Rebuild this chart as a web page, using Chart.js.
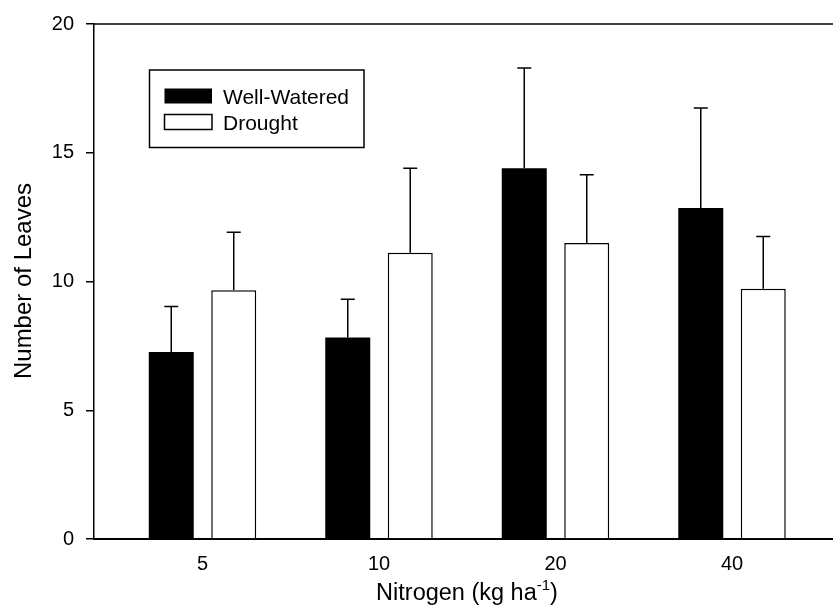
<!DOCTYPE html>
<html>
<head>
<meta charset="utf-8">
<script src="https://cdn.jsdelivr.net/npm/chart.js@4"></script>
<style>
  html, body { margin: 0; padding: 0; background: #fff; }
  #wrap { width: 833px; height: 605px; }
</style>
</head>
<body>
<div id="wrap"><canvas id="c" width="833" height="605"></canvas></div>
<script>
// ---- data ----
const categories = ["5", "10", "20", "40"];
const seriesNames = ["Well-Watered", "Drought"];
const wellWatered = [7.26, 7.83, 14.40, 12.85];
const wellWateredErr = [1.77, 1.48, 3.89, 3.89];
const drought = [9.66, 11.12, 11.50, 9.72];
const droughtErr = [2.25, 3.28, 2.65, 2.03];
const yTicks = [0, 5, 10, 15, 20];
const xTitle = "Nitrogen (kg ha";
const xTitleSup = "-1";
const yTitle = "Number of Leaves";

const FONT = "'Liberation Sans', Arial, Helvetica, sans-serif";

const toPoints = arr => arr.map((v, i) => ({ x: i, y: v }));

const errorBars = {
  id: 'errorBars',
  afterDatasetsDraw(chart) {
    const ctx = chart.ctx;
    const ys = chart.scales.y;
    const errs = [wellWateredErr, droughtErr];
    ctx.save();
    ctx.strokeStyle = '#000';
    ctx.lineWidth = 1.5;
    chart.data.datasets.forEach((ds, di) => {
      const meta = chart.getDatasetMeta(di);
      meta.data.forEach((bar, j) => {
        const top = ys.getPixelForValue(ds.data[j].y + errs[di][j]);
        const base = ys.getPixelForValue(ds.data[j].y);
        ctx.beginPath();
        ctx.moveTo(bar.x, base);
        ctx.lineTo(bar.x, top);
        ctx.moveTo(bar.x - 7, top);
        ctx.lineTo(bar.x + 7, top);
        ctx.stroke();
      });
    });
    ctx.restore();
  }
};

const decor = {
  id: 'decor',
  afterDraw(chart) {
    const ctx = chart.ctx;
    const a = chart.chartArea;
    ctx.save();
    // top frame line
    ctx.strokeStyle = '#000';
    ctx.lineWidth = 1.5;
    ctx.beginPath();
    ctx.moveTo(a.left, a.top);
    ctx.lineTo(a.right, a.top);
    ctx.stroke();

    // legend
    const lx = 149.5, ly = 70, lw = 214.5, lh = 77.5;
    ctx.lineWidth = 1.5;
    ctx.strokeRect(lx, ly, lw, lh);
    ctx.fillStyle = '#000';
    ctx.fillRect(164.5, 88.5, 47.5, 15);
    ctx.fillStyle = '#fff';
    ctx.fillRect(164.5, 114.5, 47.5, 15);
    ctx.strokeStyle = '#000';
    ctx.lineWidth = 1.5;
    ctx.strokeRect(164.5, 114.5, 47.5, 15);
    ctx.fillStyle = '#000';
    ctx.font = "21px " + FONT;
    ctx.textAlign = 'left';
    ctx.textBaseline = 'alphabetic';
    ctx.fillText(seriesNames[0], 223, 103.5);
    ctx.fillText(seriesNames[1], 223, 129.5);

    // x title with superscript
    const big = "23.5px " + FONT, small = "15px " + FONT;
    ctx.font = big;
    const w1 = ctx.measureText(xTitle).width;
    ctx.font = small;
    const w2 = ctx.measureText(xTitleSup).width;
    ctx.font = big;
    const w3 = ctx.measureText(")").width;
    const total = w1 + w2 + w3;
    let x0 = 467 - total / 2;
    const base = 600;
    ctx.fillText(xTitle, x0, base);
    ctx.font = small;
    ctx.fillText(xTitleSup, x0 + w1, base - 10);
    ctx.font = big;
    ctx.fillText(")", x0 + w1 + w2, base);

    // y title
    ctx.save();
    ctx.translate(31, 281);
    ctx.rotate(-Math.PI / 2);
    ctx.textAlign = 'center';
    ctx.font = "24px " + FONT;
    ctx.fillText(yTitle, 0, 0);
    ctx.restore();

    ctx.restore();
  }
};

new Chart(document.getElementById('c'), {
  type: 'bar',
  data: {
    datasets: [
      {
        label: seriesNames[0],
        data: toPoints(wellWatered),
        backgroundColor: '#000',
        borderColor: '#000',
        borderWidth: 0
      },
      {
        label: seriesNames[1],
        data: toPoints(drought),
        backgroundColor: '#fff',
        borderColor: '#000',
        borderWidth: 1.5
      }
    ]
  },
  options: {
    responsive: false,
    animation: false,
    devicePixelRatio: 1,
    layout: { padding: { top: 23, right: 0, left: 0, bottom: 0 } },
    categoryPercentage: 0.708,
    barPercentage: 0.72,
    plugins: {
      legend: { display: false },
      tooltip: { enabled: false },
      title: { display: false }
    },
    scales: {
      x: {
        type: 'linear',
        min: -0.6147,
        max: 3.5722,
        offset: false,
        grid: { display: false, drawTicks: false },
        border: { display: true, color: '#000', width: 2 },
        afterBuildTicks: s => { s.ticks = categories.map((c, i) => ({ value: i })); },
        afterFit: s => { s.height = 66; },
        ticks: {
          callback: v => categories[v],
          color: '#000',
          font: { family: FONT, size: 20 },
          padding: 13,
          maxRotation: 0,
          autoSkip: false
        }
      },
      y: {
        min: 0,
        max: 20,
        afterBuildTicks: s => { s.ticks = yTicks.map(v => ({ value: v })); },
        afterFit: s => { s.width = 94; },
        grid: { drawOnChartArea: false, drawTicks: true, tickLength: 8, color: '#000', lineWidth: 1.5 },
        border: { display: true, color: '#000', width: 1.5 },
        ticks: {
          color: '#000',
          font: { family: FONT, size: 20 },
          padding: 12
        }
      }
    }
  },
  plugins: [errorBars, decor]
});
</script>
</body>
</html>
